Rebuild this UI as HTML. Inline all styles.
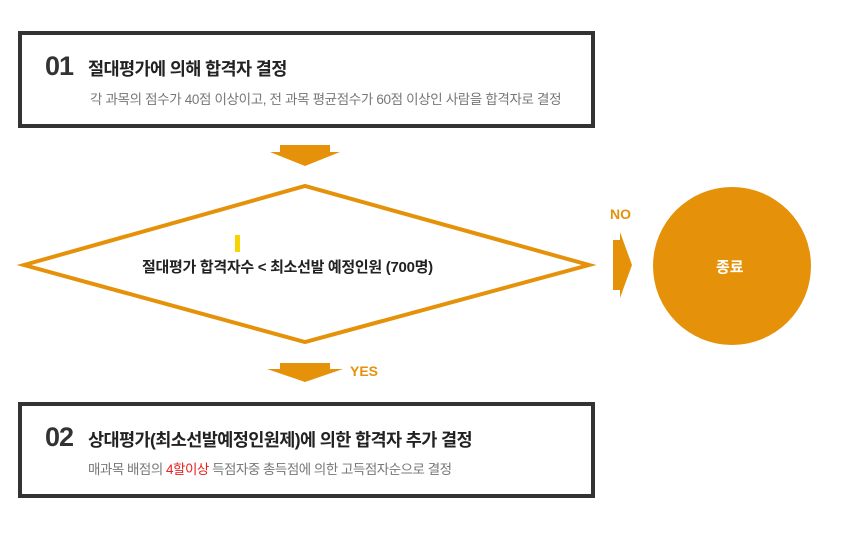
<!DOCTYPE html>
<html><head><meta charset="utf-8"><style>
body{margin:0;width:845px;height:538px;background:#fff;position:relative;overflow:hidden;font-family:"Liberation Sans","Noto Sans CJK KR",sans-serif;}
.box{position:absolute;left:18px;width:569px;border:4px solid #333;background:#fff;}
.t{position:absolute;white-space:nowrap;}
</style></head><body>
<div class="box" style="top:31px;height:89px;"></div>
<div class="t" style="left:45px;top:51px;font-size:27px;font-weight:bold;color:#333;letter-spacing:-1px;">01</div>
<div class="t" style="left:88px;top:56px;font-size:17.5px;font-weight:bold;color:#222;letter-spacing:-0.6px;">절대평가에 의해 합격자 결정</div>
<div class="t" style="left:90px;top:88px;font-size:13.5px;color:#777;letter-spacing:-0.35px;">각 과목의 점수가 40점 이상이고, 전 과목 평균점수가 60점 이상인 사람을 합격자로 결정</div>

<div class="box" style="top:402px;height:88px;"></div>
<div class="t" style="left:45px;top:422px;font-size:27px;font-weight:bold;color:#333;letter-spacing:-1px;">02</div>
<div class="t" style="left:88px;top:427px;font-size:17.5px;font-weight:bold;color:#222;letter-spacing:-0.6px;">상대평가(최소선발예정인원제)에 의한 합격자 추가 결정</div>
<div class="t" style="left:88px;top:458px;font-size:13.5px;color:#777;letter-spacing:-0.5px;">매과목 배점의 <span style="color:#e82020">4할이상</span> 득점자중 총득점에 의한 고득점자순으로 결정</div>

<svg width="845" height="538" style="position:absolute;left:0;top:0">
<polygon points="280,145 330,145 330,152 340,152 305,166 270,152 280,152" fill="#e5920a"/>
<polygon points="24,265 305,186 589,265 305,342" fill="none" stroke="#e5920a" stroke-width="4"/>
<rect x="235" y="235" width="5" height="17" fill="#f5d400"/>
<polygon points="280,363 330,363 330,369 343,369 305,382 267,369 280,369" fill="#e5920a"/>
<polygon points="613,240 620,240 620,232 632,265 620,298 620,290 613,290" fill="#e5920a"/>
<circle cx="732" cy="266" r="79" fill="#e5920a"/>
</svg>
<div class="t" style="left:142px;top:256px;font-size:15px;font-weight:bold;color:#222;letter-spacing:-0.3px;">절대평가 합격자수 &lt; 최소선발 예정인원 (700명)</div>
<div class="t" style="left:610px;top:206px;font-size:14px;font-weight:bold;color:#e5920a;">NO</div>
<div class="t" style="left:350px;top:363px;font-size:14px;font-weight:bold;color:#e5920a;">YES</div>
<div class="t" style="left:716px;top:256px;font-size:15px;font-weight:bold;color:#fff;">종료</div>
</body></html>
